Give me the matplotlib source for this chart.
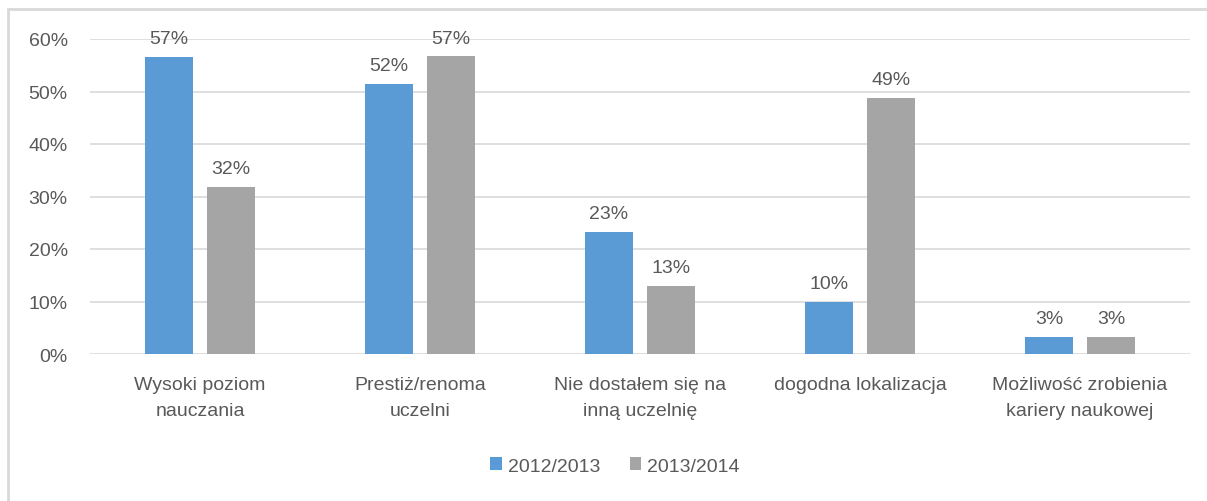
import numpy as np
import matplotlib.pyplot as plt
from matplotlib.patches import Rectangle

categories = ["Wysoki poziom\nnauczania", "Prestiż/renoma\nuczelni", "Nie dostałem się na\ninną uczelnię",
              "dogodna lokalizacja", "Możliwość zrobienia\nkariery naukowej"]
s2012 = [0.566, 0.515, 0.233, 0.099, 0.033]
s2013 = [0.318, 0.567, 0.130, 0.488, 0.033]
series_names = ["2012/2013", "2013/2014"]
yticks = [0, 0.1, 0.2, 0.3, 0.4, 0.5, 0.6]

plt.rcParams['font.family'] = ['Liberation Sans', 'DejaVu Sans']
txt = '#595959'
fs = 14

fig = plt.figure(figsize=(12.07, 5.02), dpi=100)
# chart frame
fig.patches.append(Rectangle((8/1207, -0.1), 1.2, 1 - 10/502 + 0.1, transform=fig.transFigure,
                             fill=False, edgecolor='#d9d9d9', linewidth=2))
ax = fig.add_axes([90/1207, 1 - 355/502, 1100/1207, 315/502])

x = np.arange(len(categories))
w = 0.218
b1 = ax.bar(x - 0.141, s2012, w, color='#5b9bd5', label=series_names[0], zorder=3)
b2 = ax.bar(x + 0.141, s2013, w, color='#a5a5a5', label=series_names[1], zorder=3)

for bars, vals in ((b1, s2012), (b2, s2013)):
    for r, v in zip(bars, vals):
        ax.annotate("{:.0f}%".format(v * 100), (r.get_x() + r.get_width() / 2, v),
                    xytext=(0, 7), textcoords='offset points', ha='center', va='bottom',
                    fontsize=fs, color=txt)

ax.set_xlim(-0.5, len(categories) - 0.5)
ax.set_ylim(0, 0.6)
ax.set_yticks(yticks)
ax.set_yticklabels(["{:.0f}%".format(t * 100) for t in yticks])
ax.set_xticks(x)
ax.set_xticklabels(categories, linespacing=1.65)
ax.tick_params(axis='y', length=0, pad=16, labelsize=fs, labelcolor=txt)
ax.tick_params(axis='x', length=0, pad=16, labelsize=fs, labelcolor=txt)
ax.grid(axis='y', color='#d9d9d9', linewidth=1.2, zorder=0)
for s in ax.spines.values():
    s.set_visible(False)

fig.legend(loc='center', bbox_to_anchor=(615/1207, 1 - 467/502), ncol=2, frameon=False,
           fontsize=fs, labelcolor=txt, handlelength=0.6, handleheight=0.6,
           handletextpad=0.3, columnspacing=1.5)

fig.savefig("out.png", dpi=100)
